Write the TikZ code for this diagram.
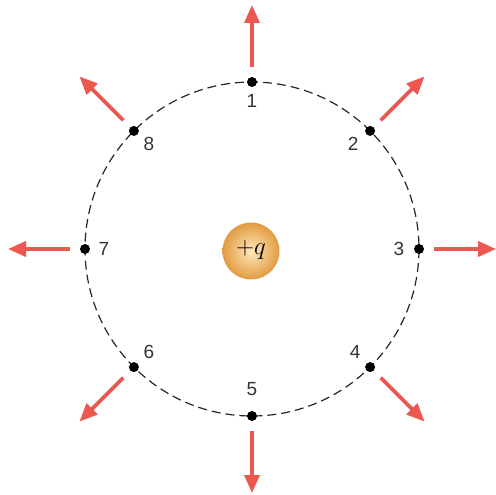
\documentclass[tikz,border=0pt]{standalone}
\usepackage{fontspec}
\setsansfont{Liberation Sans}
\usetikzlibrary{arrows.meta,calc}
\definecolor{arrred}{RGB}{236,88,80}
\definecolor{ballin}{RGB}{255,232,185}
\definecolor{ballout}{RGB}{225,155,65}
\begin{document}
\begin{tikzpicture}[x=1pt,y=-1pt,
  dotpt/.style={circle,fill=black,inner sep=0pt,minimum size=10pt},
  numlbl/.style={font=\sffamily\fontsize{19}{19}\selectfont,text=black!80,inner sep=0pt},
  field/.style={draw=arrred,line width=3.6pt,-{Triangle[length=18pt,width=15pt]}}]
\useasboundingbox (0,0) rectangle (495,495);
\coordinate (O) at (252,249);
\draw[black!85,line width=1.2pt,dash pattern=on 9pt off 5pt] (O) circle (167);
\shade[inner color=ballin,outer color=ballout] (251,251) circle (28.5);
\node[font=\fontsize{25}{25}\selectfont] (q) at (251,250) {$+q$};
\foreach \i/\a/\lx/\ly in {1/90/0/19, 2/45/-17/13, 3/0/-20/0, 4/-45/-15/-15, 5/-90/0/-27, 6/-135/15/-15, 7/180/19/0, 8/135/15/13} {
  \node[dotpt] (p\i) at ($(O)+({167*cos(\a)},{-167*sin(\a)})$) {};
  \node[numlbl] (l\i) at ($(p\i)+(\lx,\ly)$) {\i};
  \coordinate (t\i) at ($(O)+({182*cos(\a)},{-182*sin(\a)})$);
  \coordinate (h\i) at ($(O)+({244*cos(\a)},{-244*sin(\a)})$);
  \draw[field] (t\i) -- (h\i);
}
\end{tikzpicture}
\end{document}
